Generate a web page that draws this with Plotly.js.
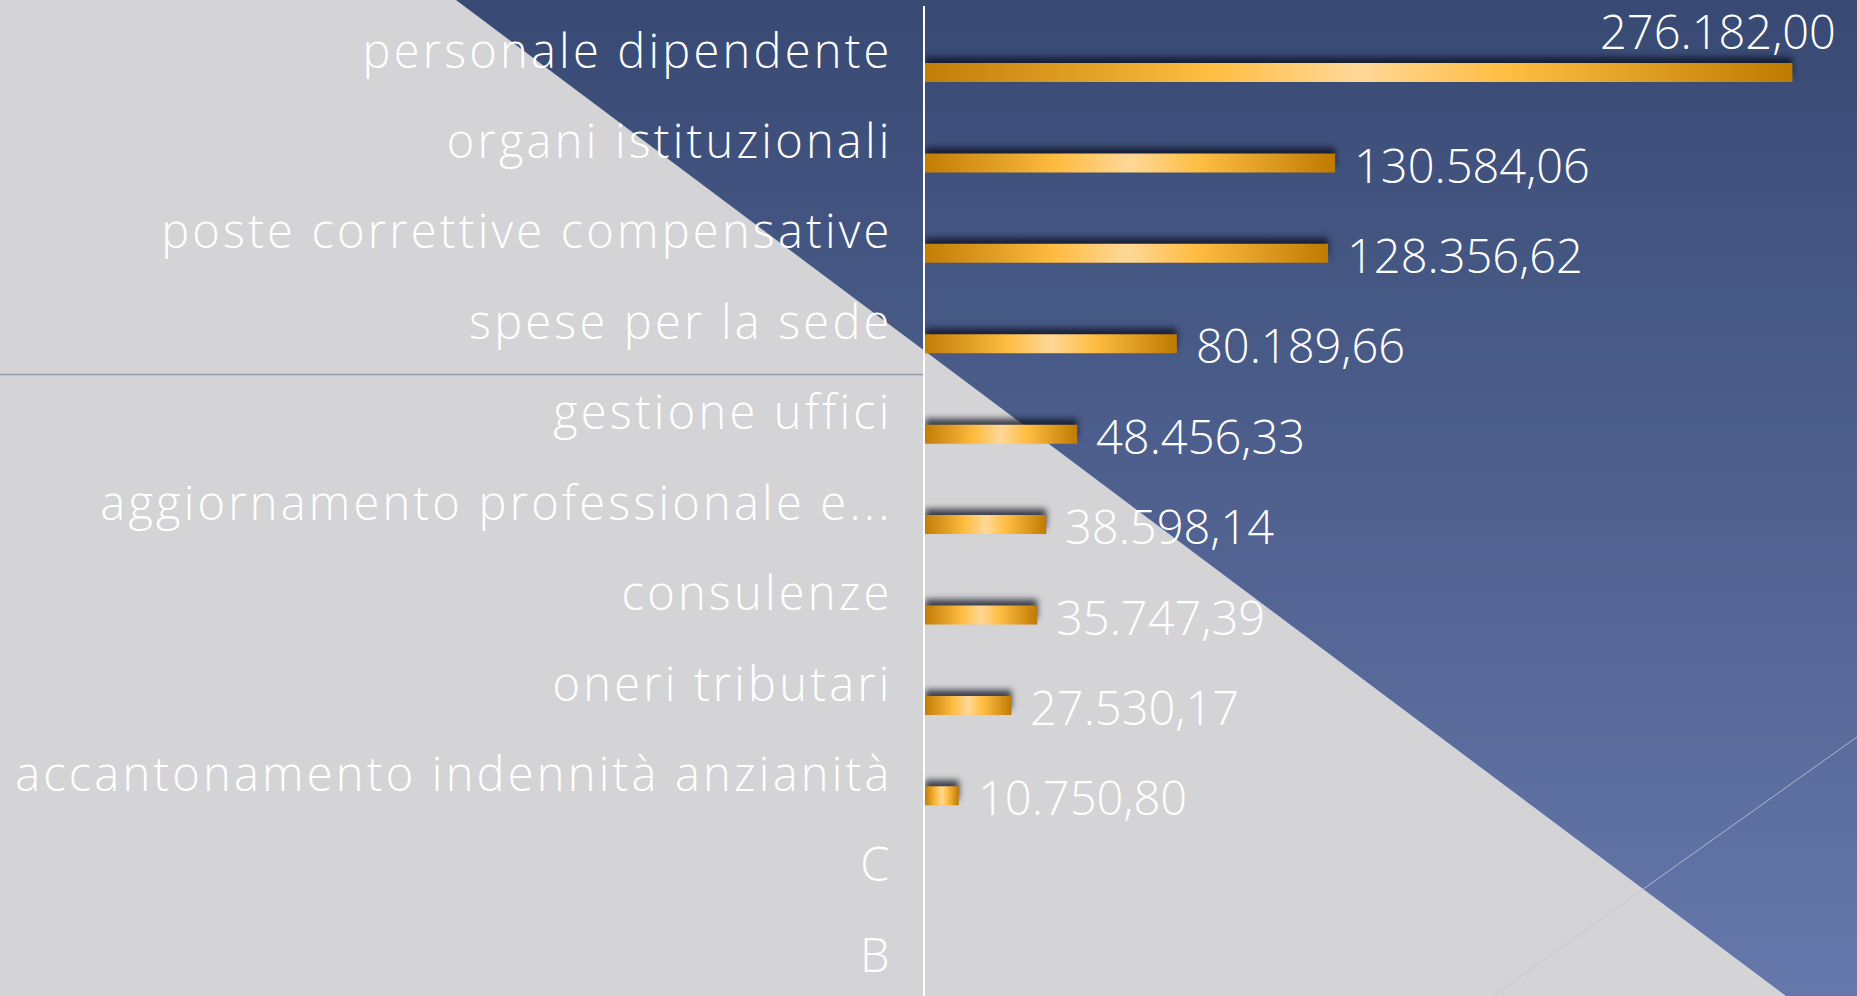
<!DOCTYPE html>
<html>
<head>
<meta charset="utf-8">
<script src="https://cdn.plot.ly/plotly-3.0.1.min.js"></script>
<style>
  html, body { margin: 0; padding: 0; width: 1857px; height: 996px; overflow: hidden; }
  #bg { position: absolute; left: 0; top: 0; }
  #chart { position: absolute; left: 0; top: 0; width: 1857px; height: 996px; }
</style>
</head>
<body>
<!-- slide background: gray field, blue diagonal panel, thin decorative lines -->
<svg id="bg" width="1857" height="996">
  <defs>
    <linearGradient id="blueGrad" x1="0" y1="0" x2="0" y2="1">
      <stop offset="0" stop-color="#384a73"/>
      <stop offset="1" stop-color="#6677ab"/>
    </linearGradient>
  </defs>
  <rect x="0" y="0" width="1857" height="996" fill="#d4d4d6"/>
  <polygon points="456,0 1857,0 1857,996 1786,996" fill="url(#blueGrad)"/>
  <line x1="0" y1="374.5" x2="925" y2="374.5" stroke="#9499b0" stroke-width="1.5"/>
  <line x1="1857" y1="737" x2="1493" y2="996" stroke="rgba(190,195,215,0.85)" stroke-width="1"/>
</svg>
<div id="chart"></div>
<script>
const categories = [
  'personale dipendente',
  'organi istituzionali',
  'poste correttive compensative',
  'spese per la sede',
  'gestione uffici',
  'aggiornamento professionale e...',
  'consulenze',
  'oneri tributari',
  'accantonamento indennità anzianità',
  'C',
  'B'
];
const values = [276182.00, 130584.06, 128356.62, 80189.66, 48456.33, 38598.14, 35747.39, 27530.17, 10750.80, null, null];

const xMax = 296720;
const labelFont = { family: 'Open Sans, sans-serif', size: 47, color: '#ffffff', weight: 300 };

// 276182 -> "276.182,00"
function formatIt(v) {
  const parts = v.toFixed(2).split('.');
  const intPart = parts[0].replace(/\B(?=(\d{3})+(?!\d))/g, '.');
  return intPart + ',' + parts[1];
}

const annotations = [];
values.forEach((v, i) => {
  if (v === null) return;
  if (v / xMax > 0.75) {
    // no room to the right: Excel puts it above, right aligned
    annotations.push({
      x: v, y: categories[i], xref: 'x', yref: 'y',
      text: formatIt(v), showarrow: false,
      xanchor: 'right', yanchor: 'middle', xshift: 46, yshift: 20,
      font: labelFont
    });
  } else {
    annotations.push({
      x: v, y: categories[i], xref: 'x', yref: 'y',
      text: formatIt(v), showarrow: false,
      xanchor: 'left', yanchor: 'middle', xshift: 17, yshift: -23,
      font: labelFont
    });
  }
});

const data = [{
  type: 'bar',
  orientation: 'h',
  x: values,
  y: categories,
  offset: 0.131,
  width: 0.21,
  marker: { color: '#f0ad30', line: { width: 0 } },
  hoverinfo: 'skip'
}];

const layout = {
  width: 1857,
  height: 996,
  margin: { l: 925, r: 0, t: 6, b: 0 },
  paper_bgcolor: 'rgba(0,0,0,0)',
  plot_bgcolor: 'rgba(0,0,0,0)',
  showlegend: false,
  xaxis: {
    range: [0, xMax],
    showgrid: false,
    zeroline: false,
    showticklabels: false,
    showline: false
  },
  yaxis: {
    type: 'category',
    categoryorder: 'array',
    categoryarray: categories,
    range: [10.45, -0.5],
    showgrid: false,
    zeroline: false,
    showline: true,
    linecolor: '#ffffff',
    linewidth: 2,
    ticks: '',
    ticklabelstandoff: 21,
    tickfont: labelFont
  },
  annotations: annotations
};

Plotly.newPlot('chart', data, layout, { staticPlot: true, displayModeBar: false }).then(gd => {
  // Century Gothic is much wider than Open Sans: open up the category labels
  gd.querySelectorAll('.ytick text').forEach(t => { t.style.letterSpacing = '3.2px'; });

  // gold cylinder-like gradient and a soft shadow above each bar
  const svg = gd.querySelector('.main-svg');
  const ns = 'http://www.w3.org/2000/svg';
  let defs = svg.querySelector('defs');
  if (!defs) { defs = document.createElementNS(ns, 'defs'); svg.insertBefore(defs, svg.firstChild); }
  const grad = document.createElementNS(ns, 'linearGradient');
  grad.setAttribute('id', 'goldGrad');
  grad.setAttribute('x1', '0'); grad.setAttribute('y1', '0');
  grad.setAttribute('x2', '1'); grad.setAttribute('y2', '0');
  [[0, '#c27d06'], [0.18, '#e29f26'], [0.33, '#ffbd42'], [0.5, '#ffd898'],
   [0.67, '#ffbd42'], [0.82, '#e29f26'], [1, '#bf7a00']].forEach(s => {
    const stop = document.createElementNS(ns, 'stop');
    stop.setAttribute('offset', s[0]);
    stop.setAttribute('stop-color', s[1]);
    grad.appendChild(stop);
  });
  defs.appendChild(grad);
  gd.querySelectorAll('.bars .point path').forEach(p => {
    p.style.fill = 'url(#goldGrad)';
    p.style.filter = 'drop-shadow(0px -6px 3px rgba(10,14,30,0.75))';
  });
});
</script>
</body>
</html>
